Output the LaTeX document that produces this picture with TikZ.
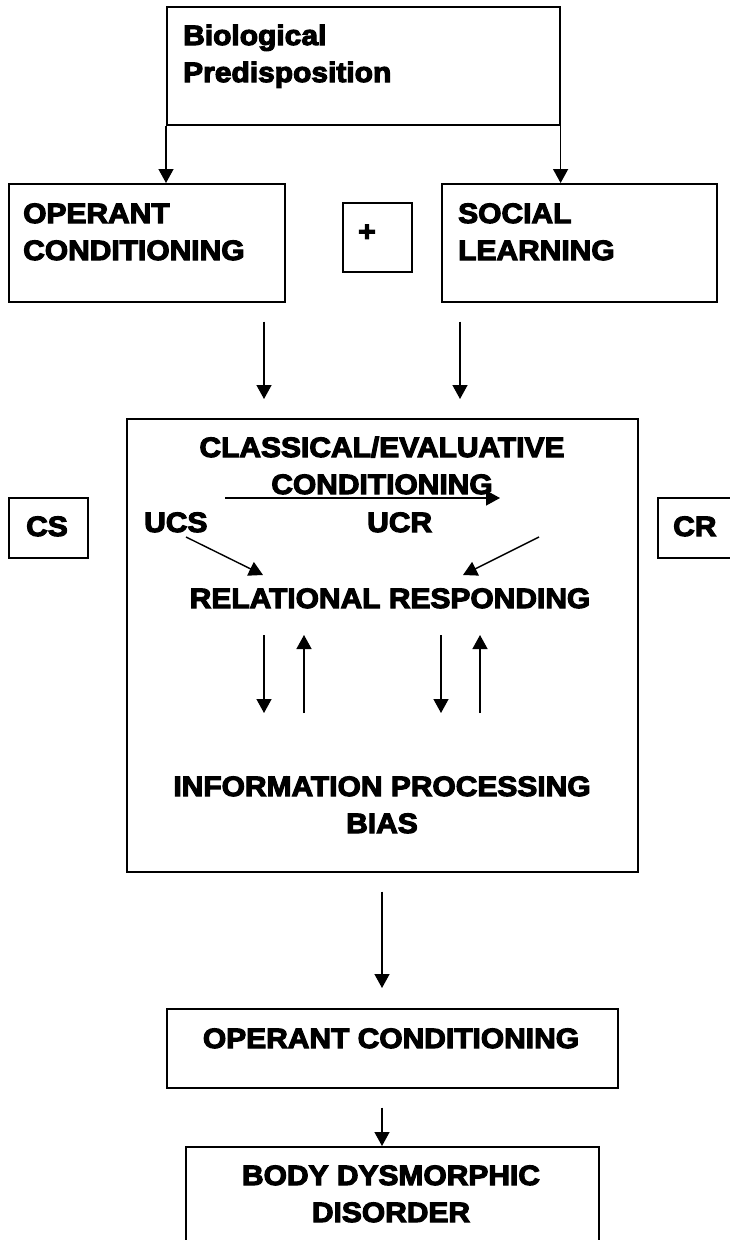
\documentclass[tikz,border=0pt]{standalone}
\usepackage{fontspec}
\newfontfamily\heavy{Liberation Sans Bold}[FakeStretch=1.07,FakeBold=4]
\usetikzlibrary{arrows.meta}
\tikzset{
  box/.style={draw,line width=1.6pt,anchor=north west,inner sep=0pt},
  lbl/.style={inner sep=0pt,font=\heavy\fontsize{28}{37}\selectfont},
  arr/.style={line width=1.4pt,-{Triangle[length=14pt,width=15pt]}}
}

\begin{document}
\begin{tikzpicture}[x=1pt,y=-1pt]
\useasboundingbox (0,0) rectangle (729,1240);
% boxes
\node[box,minimum width=393pt,minimum height=118pt] (bio) at (166,6) {};
\node[box,minimum width=276pt,minimum height=118pt] (op) at (8,183) {};
\node[box,minimum width=69pt,minimum height=69pt] (plus) at (342,202) {};
\node[box,minimum width=275pt,minimum height=118pt] (soc) at (441,183) {};
\node[box,minimum width=79pt,minimum height=60pt] (cs) at (8,497) {};
\node[box,minimum width=100pt,minimum height=60pt] (cr) at (657,497) {};
\node[box,minimum width=511pt,minimum height=453pt] (main) at (126,418) {};
\node[box,minimum width=451pt,minimum height=79pt] (op2) at (166,1008) {};
\node[box,minimum width=413pt,minimum height=120pt] (bdd) at (185,1146) {};
% texts (base = last line)
\node[lbl,anchor=base west,align=left] (biot) at (183,82) {Biological\\Predisposition};
\node[lbl,anchor=base west,align=left] (opt) at (23,260) {OPERANT\\CONDITIONING};
\node[lbl,anchor=base] (plust) at (367,241) {+};
\node[lbl,anchor=base west,align=left] (soct) at (458,260) {SOCIAL\\LEARNING};
\node[lbl,anchor=base] (cst) at (47,536) {CS};
\node[lbl,anchor=base west] (crt) at (673,536) {CR};
\node[lbl,anchor=base,align=center] (cec) at (382,494) {CLASSICAL/EVALUATIVE\\CONDITIONING};
\node[lbl,anchor=base west] (ucs) at (144,532) {UCS};
\node[lbl,anchor=base west] (ucr) at (367,532) {UCR};
\node[lbl,anchor=base] (rr) at (390,608) {RELATIONAL RESPONDING};
\node[lbl,anchor=base,align=center] (ipb) at (382,833) {INFORMATION PROCESSING\\BIAS};
\node[lbl,anchor=base] (op2t) at (391,1048) {OPERANT CONDITIONING};
\node[lbl,anchor=base,align=center] (bddt) at (391,1222) {BODY DYSMORPHIC\\DISORDER};
% columns and free ends
\coordinate (c1) at (264,0);
\coordinate (c2) at (460,0);
\coordinate (c3) at (382,0);
\coordinate (hs) at (225,498);
\coordinate (he) at (500,498);
\coordinate (d1s) at (186,537);
\coordinate (d1e) at (263,575);
\coordinate (d2s) at (539,537);
\coordinate (d2e) at (463,575);
% arrows
\draw[arr] (bio.south west) -- (bio.south west |- op.north);
\draw[arr] (bio.south east) -- (bio.south east |- soc.north);
\draw[arr,shorten <=19pt,shorten >=19pt] (op.south -| c1) -- (main.north -| c1);
\draw[arr,shorten <=19pt,shorten >=19pt] (soc.south -| c2) -- (main.north -| c2);
\draw[arr] (hs) -- (he);
\draw[arr] (d1s) -- (d1e);
\draw[arr] (d2s) -- (d2e);
\foreach \x in {264,441}{\draw[arr] (\x,635) coordinate (dn\x) -- (\x,713) coordinate (dm\x);}
\foreach \x in {304,480}{\draw[arr] (\x,713) coordinate (up\x) -- (\x,635) coordinate (um\x);}
\draw[arr,shorten <=19pt,shorten >=20pt] (main.south -| c3) -- (op2.north -| c3);
\draw[arr,shorten <=19pt] (op2.south -| c3) -- (bdd.north -| c3);
\end{tikzpicture}
\end{document}
